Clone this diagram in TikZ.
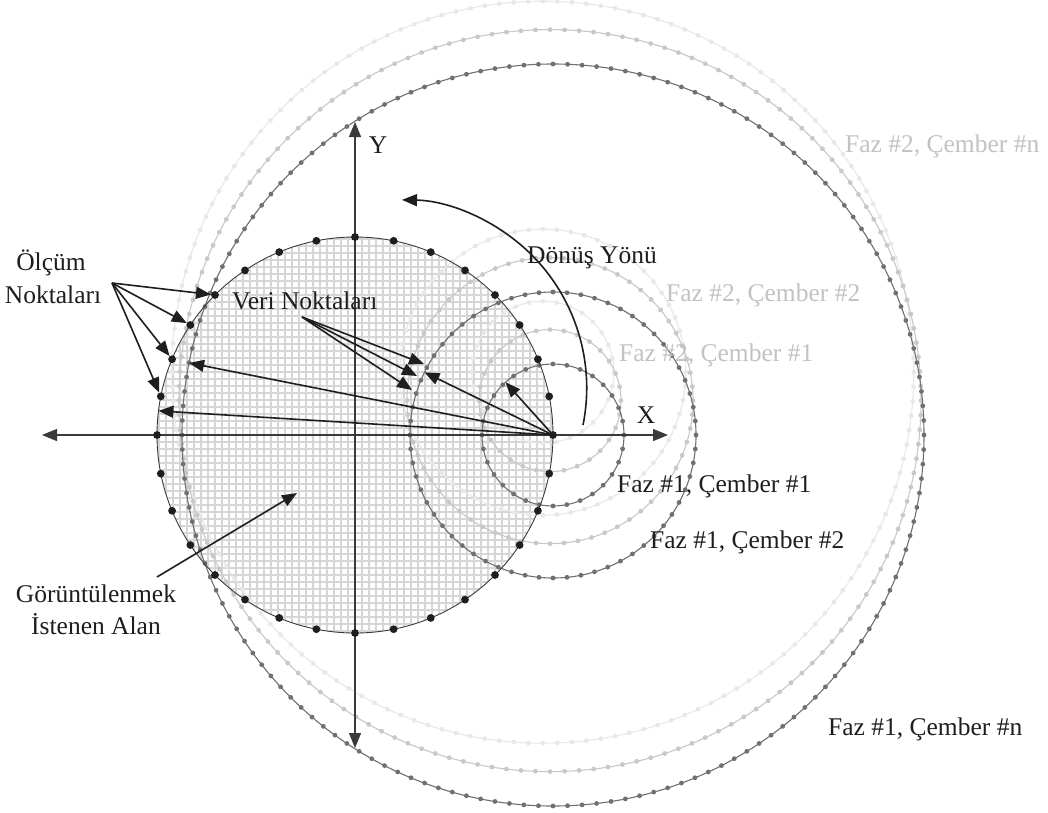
\documentclass[tikz,border=0pt]{standalone}
\usepackage{fontspec}
\setmainfont{Liberation Serif}
\usetikzlibrary{arrows.meta,calc}
\definecolor{ringA}{HTML}{707070}
\definecolor{ringB}{HTML}{C8C8C8}
\definecolor{ringC}{HTML}{E8E8E8}
\definecolor{gridc}{HTML}{D6D6D6}
\definecolor{ink}{HTML}{1E1E1E}
\definecolor{axisc}{HTML}{3A3A3A}
\definecolor{labB}{HTML}{C2C2C2}
\begin{document}
\begin{tikzpicture}[x=1pt,y=-1pt,
  lbl/.style={font=\fontsize{25.5pt}{32pt}\selectfont, inner sep=0pt, text=ink},
  lblB/.style={lbl, text=labB},
  bigdot/.style={circle, fill=ink, draw=none, inner sep=0pt, minimum size=7.8pt},
  tip/.style={-{Triangle[length=15pt,width=12pt]}},
  ptr/.style={tip, draw=ink, line width=1.6pt},
  axisline/.style={{Triangle[length=15pt,width=12pt]}-{Triangle[length=15pt,width=12pt]}, draw=axisc, fill=axisc, line width=1.2pt}]
\useasboundingbox (0,0) rectangle (1048,812);
\fill[white] (0,0) rectangle (1048,812);
\coordinate (O) at (355,435);
\coordinate (P) at (553,435);
% imaging area with grid
\begin{scope}
  \clip (O) circle[radius=198];
  \fill[white] (O) circle[radius=198];
  \foreach \i in {-29,...,29} {
    \draw[gridc, line width=1.9pt] ($(O)+(\i*7,-205)$) -- ($(O)+(\i*7,205)$);
    \draw[gridc, line width=1.9pt] ($(O)+(-205,\i*7)$) -- ($(O)+(205,\i*7)$);
  }
\end{scope}
% measurement circles (three phases)
\foreach \cx/\cy/\col in {542.8/372.2/ringC, 550/400.6/ringB, 553/435/ringA} {
  \foreach \rad/\nd in {71/32, 143/64, 371/160} {
    \draw[\col, line width=1.1pt] (\cx,\cy) circle[radius=\rad];
    \pgfmathsetmacro\st{360/\nd}
    \foreach \k in {1,...,\nd} \fill[\col] (\cx,\cy) ++(\k*\st:\rad) circle[radius=2.4];
  }
}
% main circle outline
\draw[axisc, line width=0.9pt] (O) circle[radius=198];
% axes
\coordinate (xl) at (42,435);
\coordinate (xr) at (668,435);
\coordinate (yt) at (355,122);
\coordinate (yb) at (355,748);
\draw[axisline] (xl) -- (xr);
\draw[axisline] (yb) -- (yt);
% main circle data points
\foreach \k in {0,...,31} \node[bigdot] (m\k) at ($(O)+(-\k*11.25:198)$) {};
% rotation direction
\coordinate (rs) at (583,425);
\draw[ptr] (rs) arc[start angle=11.4, end angle=-89, radius=188];
% arrows from pivot
\coordinate (ta) at ($(P)+(-154:143)$);
\coordinate (tb) at ($(P)+(-168.8:371)$);
\coordinate (tc) at ($(O)+(-173:198)$);
\coordinate (td) at ($(P)+(-132:71)$);
\foreach \t in {ta,tb,tc,td} \draw[ptr] (m0.center) -- (\t);
% measurement points pointers
\coordinate (olc) at (112,283);
\foreach \k in {12,13,14,15} \draw[ptr] (olc) -- (m\k);
% data points pointers
\coordinate (veri) at (302,317);
\coordinate (v1) at (424,364);
\coordinate (v2) at (417,376);
\coordinate (v3) at (412,390);
\foreach \t in {v1,v2,v3} \draw[ptr] (veri) -- (\t);
% area pointer
\coordinate (gs) at (157,577);
\coordinate (ge) at (297,493);
\draw[ptr] (gs) -- (ge);
% labels
\node[lbl, anchor=base] (ylab) at (378,153) {Y};
\node[lbl, anchor=base] (xlab) at (646,423) {X};
\node[lbl, anchor=base west] (donus) at (527,263) {Dönüş Yönü};
\node[lbl, anchor=base west] (veril) at (232,309) {Veri Noktaları};
\node[lbl, anchor=base] (olc1) at (51,270) {Ölçüm};
\node[lbl, anchor=base] (olc2) at (53,303) {Noktaları};
\node[lbl, anchor=base] (gor1) at (96,602) {Görüntülenmek};
\node[lbl, anchor=base] (gor2) at (96,634) {İstenen Alan};
\node[lblB, anchor=base west] (f2n) at (845,152) {Faz \#2, Çember \#n};
\node[lblB, anchor=base west] (f22) at (666,301) {Faz \#2, Çember \#2};
\node[lblB, anchor=base west] (f21) at (619,361) {Faz \#2, Çember \#1};
\node[lbl, anchor=base west] (f11) at (617,492) {Faz \#1, Çember \#1};
\node[lbl, anchor=base west] (f12) at (650,548) {Faz \#1, Çember \#2};
\node[lbl, anchor=base west] (f1n) at (828,735) {Faz \#1, Çember \#n};
\end{tikzpicture}
\end{document}
